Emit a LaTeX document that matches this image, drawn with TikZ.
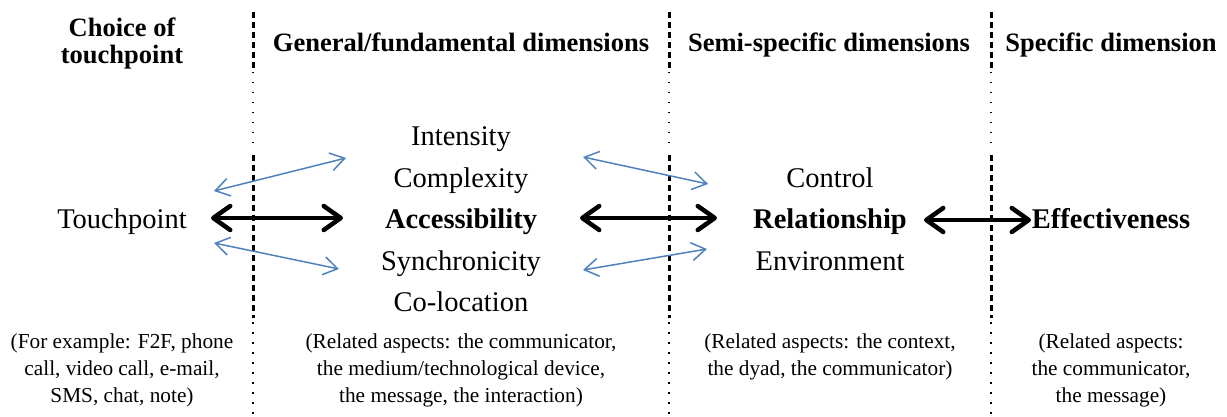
\documentclass[tikz,border=0pt]{standalone}
\usepackage{fontspec}
\setmainfont{Liberation Serif}
\usetikzlibrary{arrows.meta}
\definecolor{arrowblue}{RGB}{79,129,189}
\tikzset{
  x=1pt, y=-1pt,
  head/.style={font=\fontsize{26.5}{27}\selectfont\bfseries, anchor=base, inner sep=0pt},
  mid/.style={font=\fontsize{28.5}{34}\selectfont, anchor=base, inner sep=0pt},
  midbold/.style={font=\fontsize{28.5}{34}\selectfont\bfseries, anchor=base, inner sep=0pt},
  small/.style={font=\fontsize{21.3}{27}\selectfont, anchor=base, inner sep=0pt},
  thickdash/.style={line width=3pt, dash pattern=on 6pt off 4pt},
  thindot/.style={line width=1.5pt, dash pattern=on 1.5pt off 8.5pt},
  bigarrow/.style={line width=4.5pt, line cap=round, line join=round,
    {Straight Barb[length=17pt,width=24pt,round]}-{Straight Barb[length=17pt,width=24pt,round]}},
  bluearrow/.style={draw=arrowblue, line width=1.5pt,
    {Straight Barb[length=14pt,width=18pt]}-{Straight Barb[length=14pt,width=18pt]}}
}
\begin{document}
\begin{tikzpicture}
\useasboundingbox (0,0) rectangle (1227,417);
% column separators
\foreach \xx in {253,669,991}{
  \draw[thickdash] (\xx,12) -- (\xx,69);
  \draw[thindot] (\xx,72) -- (\xx,150);
  \draw[thickdash] (\xx,155) -- (\xx,318);
  \draw[thindot] (\xx,322) -- (\xx,417);
}
% headers
\node[head] (h1a) at (122,37) {Choice of};
\node[head] (h1b) at (122,64) {touchpoint};
\node[head] (h2) at (461,52) {General/fundamental dimensions};
\node[head] (h3) at (829,52) {Semi-specific dimensions};
\node[head] (h4) at (1111,52) {Specific dimension};
% middle
\node[mid] (tp) at (122,228) {Touchpoint};
\node[mid] (int) at (461,146) {Intensity};
\node[mid] (cpx) at (461,187) {Complexity};
\node[midbold] (acc) at (461,228) {Accessibility};
\node[mid] (syn) at (461,270) {Synchronicity};
\node[mid] (col) at (461,311) {Co-location};
\node[mid] (ctl) at (830,187) {Control};
\node[midbold] (rel) at (830,228) {Relationship};
\node[mid] (env) at (830,270) {Environment};
\node[midbold] (eff) at (1111,228) {Effectiveness};
% small notes
\node[small] (n1a) at (122,348) {(For example: F2F, phone};
\node[small] (n1b) at (122,375) {call, video call, e-mail,};
\node[small] (n1c) at (122,402) {SMS, chat, note)};
\node[small] (n2a) at (461,348) {(Related aspects: the communicator,};
\node[small] (n2b) at (461,375) {the medium/technological device,};
\node[small] (n2c) at (461,402) {the message, the interaction)};
\node[small] (n3a) at (830,348) {(Related aspects: the context,};
\node[small] (n3b) at (830,375) {the dyad, the communicator)};
\node[small] (n4a) at (1111,348) {(Related aspects:};
\node[small] (n4b) at (1111,375) {the communicator,};
\node[small] (n4c) at (1111,402) {the message)};
% arrow end points
\coordinate (a1s) at (211,218);
\coordinate (a1e) at (343,218);
\coordinate (a2s) at (580,218);
\coordinate (a2e) at (717,218);
\coordinate (a3s) at (924,220);
\coordinate (a3e) at (1031,220);
\coordinate (b1s) at (214,191);
\coordinate (b1e) at (346,158);
\coordinate (b2s) at (214,243);
\coordinate (b2e) at (339,269);
\coordinate (b3s) at (583,157);
\coordinate (b3e) at (708,184);
\coordinate (b4s) at (583,270);
\coordinate (b4e) at (707,249);
% black arrows
\draw[bigarrow] (a1s) -- (a1e);
\draw[bigarrow] (a2s) -- (a2e);
\draw[bigarrow] (a3s) -- (a3e);
% blue arrows
\draw[bluearrow] (b1s) -- (b1e);
\draw[bluearrow] (b2s) -- (b2e);
\draw[bluearrow] (b3s) -- (b3e);
\draw[bluearrow] (b4s) -- (b4e);
\end{tikzpicture}
\end{document}
